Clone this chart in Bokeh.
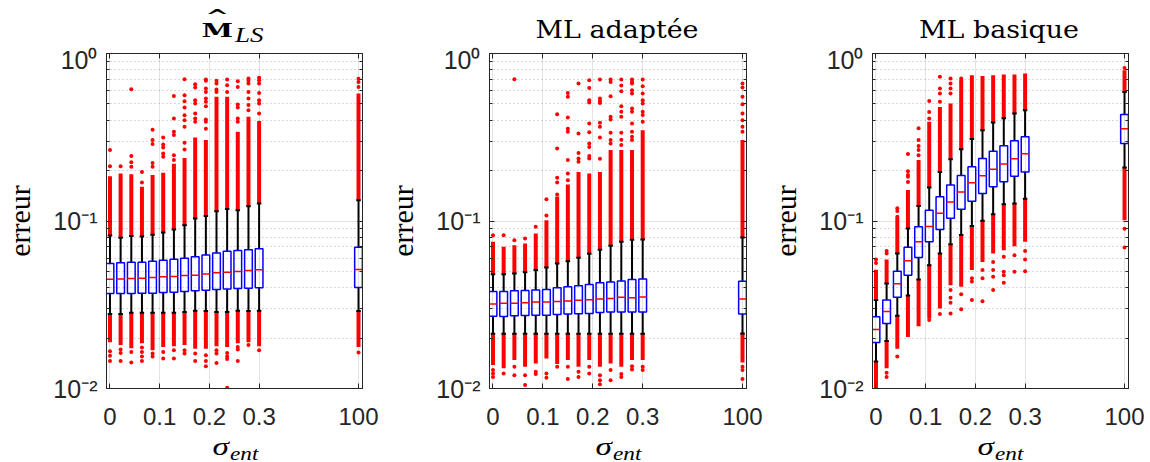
from bokeh.plotting import figure
from bokeh.layouts import row, column
from bokeh.models import (FixedTicker, LinearAxis, LogAxis, Range1d, Div,
                          CustomJSTickFormatter)
from bokeh.embed import file_html
from bokeh.resources import INLINE

# ---------------- data ----------------
x_positions = [0, 0.0214, 0.0429, 0.0643, 0.0857, 0.1071, 0.1286, 0.15,
               0.1714, 0.1929, 0.2143, 0.2357, 0.2571, 0.2786, 0.3, 0.5]
x_tick_values = [0, 0.1, 0.2, 0.3, 0.5]
x_tick_labels = ["0", "0.1", "0.2", "0.3", "100"]
y_tick_values = [0.01, 0.1, 1]
y_tick_labels = ["10\u207b\u00b2", "10\u207b\u00b9", "10\u2070"]
y_minor_ticks = [0.02, 0.03, 0.04, 0.05, 0.06, 0.07, 0.08, 0.09,
                 0.2, 0.3, 0.4, 0.5, 0.6, 0.7, 0.8, 0.9]

# panel 1 : M_LS
p1_q1 = [0.0369, 0.0369, 0.0369, 0.0371, 0.0371, 0.0374, 0.0376, 0.0380,
         0.0383, 0.0386, 0.0390, 0.0392, 0.0395, 0.0397, 0.0399, 0.0401]
p1_med = [0.0449, 0.0451, 0.0453, 0.0455, 0.0460, 0.0464, 0.0466, 0.0473,
          0.0475, 0.0482, 0.0491, 0.0495, 0.0500, 0.0506, 0.0511, 0.0513]
p1_q3 = [0.0557, 0.0563, 0.0568, 0.0568, 0.0576, 0.0584, 0.0592, 0.0600,
         0.0611, 0.0627, 0.0645, 0.0660, 0.0667, 0.0673, 0.0682, 0.0698]
p1_wlo = [0.0278, 0.0278, 0.0283, 0.0283, 0.0283, 0.0283, 0.0283, 0.0286,
          0.0291, 0.0290, 0.0286, 0.0286, 0.0291, 0.0290, 0.0291, 0.0290]
p1_whi = [0.0819, 0.0793, 0.0815, 0.0808, 0.0827, 0.0854, 0.0890, 0.0944,
          0.1035, 0.107, 0.1145, 0.118, 0.116, 0.1226, 0.1272, 0.133]
p1_dense_top = [0.185, 0.192, 0.190, 0.160, 0.188, 0.194, 0.220, 0.238,
                0.315, 0.304, 0.551, 0.551, 0.341, 0.419, 0.396, 0.577]
p1_dense_bot = [0.0189, 0.0182, 0.0174, 0.0186, 0.0169, 0.0177, 0.0179, 0.0182,
                0.0173, 0.0173, 0.0179, 0.0177, 0.0186, 0.0189, 0.0179, 0.0177]
p1_out_hi = [
    [0.265, 0.212],
    [0.212],
    [0.612, 0.244, 0.224, 0.211],
    [0.196, 0.170],
    [0.351, 0.304, 0.288, 0.222, 0.211],
    [0.315, 0.286, 0.275, 0.253, 0.242],
    [0.558, 0.409, 0.341, 0.326, 0.247, 0.231],
    [0.703, 0.564, 0.519, 0.476, 0.428, 0.400, 0.365, 0.293, 0.267],
    [0.656, 0.627, 0.526, 0.503, 0.438, 0.409, 0.391],
    [0.699, 0.687, 0.618, 0.590, 0.538, 0.515, 0.485, 0.404, 0.391, 0.356],
    [0.687, 0.662, 0.610, 0.590],
    [0.699, 0.646, 0.590],
    [0.684, 0.632, 0.496, 0.476, 0.409, 0.391],
    [0.709, 0.687, 0.662, 0.590, 0.538, 0.492, 0.459],
    [0.716, 0.693, 0.662, 0.582, 0.526, 0.503, 0.438],
    [0.706, 0.677, 0.632],
]
p1_out_lo = [
    [0.0167, 0.0157, 0.0146],
    [0.0171, 0.0163, 0.0146],
    [0.0165, 0.0143],
    [0.0176, 0.0165, 0.0155, 0.0146],
    [0.0162, 0.0155],
    [0.0165, 0.0151],
    [0.0169, 0.0151],
    [0.0169, 0.0162],
    [0.0162, 0.0146],
    [0.0158, 0.0146, 0.0136],
    [0.0169, 0.0162, 0.0142],
    [0.0163, 0.0155, 0.0150, 0.0101],
    [0.0177, 0.0171, 0.0146],
    [0.0182],
    [0.0169],
    [0.0164],
]

# panel 2 : ML adaptee
p2_q1 = [0.0270, 0.0269, 0.0272, 0.0273, 0.0274, 0.0274, 0.0277, 0.0278,
         0.0279, 0.0280, 0.0284, 0.0286, 0.0286, 0.0286, 0.0286, 0.0278]
p2_med = [0.0320, 0.0323, 0.0323, 0.0325, 0.0328, 0.0328, 0.0331, 0.0333,
          0.0336, 0.0339, 0.0342, 0.0345, 0.0350, 0.0348, 0.0352, 0.0342]
p2_q3 = [0.0380, 0.0380, 0.0383, 0.0385, 0.0387, 0.0390, 0.0399, 0.0405,
         0.0411, 0.0418, 0.0428, 0.0433, 0.0439, 0.0447, 0.0451, 0.0437]
p2_wlo = [0.0212, 0.0212, 0.0212, 0.0212, 0.0212, 0.0212, 0.0212, 0.0212,
          0.0212, 0.0212, 0.0212, 0.0212, 0.0212, 0.0212, 0.0212, 0.0213]
p2_whi = [0.0481, 0.0481, 0.0486, 0.0495, 0.0509, 0.0527, 0.0557, 0.0576,
          0.0603, 0.0637, 0.0673, 0.0712, 0.0751, 0.0772, 0.0776, 0.0796]
p2_dense_top = [0.0751, 0.0701, 0.0717, 0.0734, 0.0842, 0.1012, 0.140, 0.165,
                0.196, 0.192, 0.196, 0.265, 0.265, 0.265, 0.348, 0.304]
p2_dense_bot = [0.0138, 0.0132, 0.0148, 0.0135, 0.0141, 0.0151, 0.0140, 0.0148,
                0.0135, 0.0148, 0.0135, 0.0141, 0.0135, 0.0148, 0.0148, 0.0143]
p2_out_hi = [
    [0.0821],
    [0.0821],
    [0.0768, 0.703],
    [0.0786],
    [0.0923],
    [0.108, 0.135],
    [0.144, 0.170, 0.181, 0.271, 0.434],
    [0.175, 0.192, 0.231, 0.341, 0.355, 0.415, 0.551, 0.582],
    [0.226, 0.236, 0.255, 0.333, 0.662],
    [0.236, 0.244, 0.277, 0.290, 0.339, 0.382, 0.510, 0.526, 0.623, 0.693],
    [0.235, 0.315, 0.365, 0.386, 0.507, 0.521, 0.539, 0.700],
    [0.290, 0.304, 0.336, 0.404, 0.419, 0.556, 0.677, 0.699],
    [0.284, 0.306, 0.336, 0.419, 0.449, 0.484, 0.596, 0.644, 0.699],
    [0.304, 0.318, 0.341, 0.382, 0.449, 0.470, 0.577, 0.604, 0.662, 0.677, 0.699],
    [0.391, 0.429, 0.449, 0.503, 0.526, 0.577, 0.638, 0.699],
    [0.341, 0.365, 0.400, 0.438, 0.498, 0.551, 0.627, 0.662],
]
p2_out_lo = [
    [0.0129, 0.0123, 0.0117],
    [0.0123],
    [0.0135, 0.0120],
    [0.0120, 0.0105],
    [0.0126, 0.0122],
    [0.0123, 0.0116],
    [0.0135],
    [0.0135, 0.0114],
    [0.0126, 0.0117],
    [0.0135, 0.0123],
    [0.0120, 0.0112, 0.0106],
    [0.0129, 0.0112],
    [0.0122, 0.0117],
    [0.0136, 0.0130],
    [0.0135, 0.0129],
    [0.0135, 0.0129, 0.0114],
]

# panel 3 : ML basique
p3_q1 = [0.0188, 0.0244, 0.0350, 0.0475, 0.0605, 0.0751, 0.0890, 0.1037,
         0.1177, 0.1314, 0.146, 0.160, 0.1714, 0.185, 0.196, 0.290]
p3_med = [0.0225, 0.0288, 0.0422, 0.0579, 0.0751, 0.0927, 0.1113, 0.130,
          0.149, 0.169, 0.186, 0.204, 0.219, 0.235, 0.252, 0.355]
p3_q3 = [0.0268, 0.0337, 0.0502, 0.0698, 0.0923, 0.1161, 0.1394, 0.164,
         0.187, 0.211, 0.236, 0.261, 0.281, 0.301, 0.318, 0.432]
p3_wlo = [0.0145, 0.0192, 0.0272, 0.0359, 0.0447, 0.0545, 0.0640, 0.0727,
          0.0824, 0.0932, 0.1003, 0.1098, 0.1260, 0.1272, 0.136, 0.209]
p3_whi = [0.0337, 0.0424, 0.0640, 0.0903, 0.123, 0.1585, 0.196, 0.234,
          0.268, 0.309, 0.348, 0.387, 0.411, 0.438, 0.459, 0.590]
p3_dense_top = [0.0512, 0.059, 0.1047, 0.153, 0.231, 0.391, 0.480, 0.503,
                0.700, 0.742, 0.735, 0.742, 0.750, 0.750, 0.760, 0.795]
p3_dense_bot = [0.0100, 0.0132, 0.0173, 0.0203, 0.0235, 0.0262, 0.0300, 0.0414,
                0.0405, 0.0509, 0.0570, 0.0640, 0.0670, 0.0707, 0.0751, 0.101]
p3_out_hi = [
    [0.0562, 0.0589],
    [0.064, 0.0662],
    [0.106, 0.1148, 0.119],
    [0.171, 0.1835, 0.188, 0.198, 0.251],
    [0.247, 0.265, 0.280, 0.304, 0.358],
    [0.409, 0.448, 0.521],
    [0.515, 0.577, 0.618, 0.726],
    [0.577, 0.618, 0.662, 0.709],
    [0.709],
    [], [], [], [], [], [],
    [0.82],
]
p3_out_lo = [
    [],
    [0.0124, 0.0117],
    [0.0155],
    [],
    [],
    [0.0256],
    [0.0278],
    [0.0387, 0.0348, 0.0325, 0.0280],
    [0.0365, 0.0297],
    [0.0455, 0.0435, 0.0337],
    [0.0509, 0.0455, 0.0332],
    [0.0570, 0.0509, 0.0464, 0.0387],
    [0.0611, 0.0497, 0.0475, 0.0428],
    [0.0625, 0.0497],
    [0.0662, 0.0589, 0.0502],
    [0.0900, 0.0695],
]

# ---------------- style ----------------
AX = "#262626"
X0, X1 = -0.007, 0.508
BOX_W = 0.0155
CAP_W = 0.009
DENSE_W = 0.008
TICK_FONT = "Liberation Sans"
SERIF = "Liberation Serif"
TITLE_SERIF = "DejaVu Serif"
TOP_H, FIG_H, BOT_H = 45, 395, 22


def empty_fmt():
    return CustomJSTickFormatter(code="return ''")


def style_axis(ax):
    ax.axis_line_color = AX
    ax.axis_line_width = 1
    ax.major_tick_line_color = AX
    ax.minor_tick_line_color = AX
    ax.major_tick_in = 5
    ax.major_tick_out = 0
    ax.minor_tick_in = 3
    ax.minor_tick_out = 0
    ax.major_label_text_color = AX
    ax.major_label_text_font = TICK_FONT


def span(css, text):
    return (f'<span style="position:absolute;white-space:nowrap;color:#000;'
            f'font-weight:normal;{css}">{text}</span>')


def title_div(parts, width, cx):
    if len(parts) == 2:
        # wide hat and bold M in one text block (hat line above the M line)
        inner = (
            span(f"right:{width - cx + 0.5}px;top:10px;font-family:'{TITLE_SERIF}';"
                 "font-weight:bold;font-size:19px;line-height:13.5px;"
                 "white-space:pre;text-align:center;"
                 "transform-origin:right center;transform:scaleX(1.5);",
                 "^\nM") +
            span(f"left:{cx + 1.5}px;top:25px;font-family:'{SERIF}';"
                 "font-style:italic;font-size:20px;line-height:20px;"
                 "transform-origin:left center;transform:scaleX(1.35);", parts[1]))
    else:
        inner = span(f"left:{cx}px;top:18px;transform:translateX(-50%) scaleX(1.12);"
                     f"font-family:'{TITLE_SERIF}';font-size:24px;line-height:24px;",
                     parts[0])
    html = f'<div style="position:relative;width:{width}px;height:{TOP_H}px;">{inner}</div>'
    return Div(text=html, width=width, height=TOP_H, margin=0)


def xlabel_div(width, cx):
    inner = (span(f"right:{width - cx + 5}px;top:-6px;font-family:'{SERIF}';"
                  "font-style:italic;font-size:26px;line-height:26px;"
                  "transform-origin:right center;transform:scaleX(1.28);", "\u03c3") +
             span(f"left:{cx - 4}px;top:4px;font-family:'{SERIF}';"
                  "font-style:italic;font-size:19px;line-height:19px;"
                  "transform-origin:left center;transform:scaleX(1.22);", "ent"))
    html = f'<div style="position:relative;width:{width}px;height:{BOT_H}px;">{inner}</div>'
    return Div(text=html, width=width, height=BOT_H, margin=0)


def make_panel(title_parts, q1, med, q3, wlo, whi, dtop, dbot, out_hi, out_lo,
               left, frame_w, right):
    W = left + frame_w + right
    p = figure(width=W, height=FIG_H, y_axis_type="log",
               x_range=Range1d(X0, X1), y_range=Range1d(0.01, 1),
               output_backend="svg", toolbar_location=None,
               min_border_left=left, min_border_right=right,
               min_border_top=53 - TOP_H, min_border_bottom=FIG_H + TOP_H - 388,
               background_fill_color="white", border_fill_color="white",
               outline_line_color=AX, outline_line_width=1)

    xa = p.xaxis[0]
    xa.ticker = FixedTicker(ticks=x_tick_values, minor_ticks=[])
    xa.major_label_overrides = {v: t for v, t in zip(x_tick_values, x_tick_labels)}
    style_axis(xa)
    xa.major_label_text_font_size = "24px"
    xa.major_label_standoff = 19
    xa.minor_tick_line_color = None

    ya = p.yaxis[0]
    ya.ticker = FixedTicker(ticks=y_tick_values, minor_ticks=y_minor_ticks)
    ya.major_label_overrides = {v: t for v, t in zip(y_tick_values, y_tick_labels)}
    style_axis(ya)
    ya.major_label_text_font_size = "25px"
    ya.major_label_standoff = 9
    ya.axis_label = "erreur"
    ya.axis_label_text_font = SERIF
    ya.axis_label_text_font_size = "30px"
    ya.axis_label_text_font_style = "normal"
    ya.axis_label_text_color = "#000000"
    ya.axis_label_standoff = 14

    ra = LogAxis(ticker=FixedTicker(ticks=y_tick_values, minor_ticks=y_minor_ticks),
                 formatter=empty_fmt())
    style_axis(ra)
    ra.major_label_standoff = 0
    p.add_layout(ra, "right")
    ta = LinearAxis(ticker=FixedTicker(ticks=x_tick_values, minor_ticks=[]),
                    formatter=empty_fmt())
    style_axis(ta)
    ta.minor_tick_line_color = None
    ta.major_label_standoff = 0
    p.add_layout(ta, "above")

    p.xgrid.ticker = FixedTicker(ticks=x_tick_values, minor_ticks=[])
    p.xgrid.grid_line_color = AX
    p.xgrid.grid_line_alpha = 0.13
    p.ygrid.ticker = FixedTicker(ticks=y_tick_values, minor_ticks=y_minor_ticks)
    p.ygrid.grid_line_color = AX
    p.ygrid.grid_line_alpha = 0.13
    p.ygrid.minor_grid_line_color = AX
    p.ygrid.minor_grid_line_alpha = 0.35
    p.ygrid.minor_grid_line_dash = "1 3"

    xs = x_positions
    n = len(xs)
    p.quad(left=[x - DENSE_W / 2 for x in xs], right=[x + DENSE_W / 2 for x in xs],
           bottom=whi, top=dtop, fill_color="#ff0000", line_color=None)
    p.quad(left=[x - DENSE_W / 2 for x in xs], right=[x + DENSE_W / 2 for x in xs],
           bottom=dbot, top=wlo, fill_color="#ff0000", line_color=None)
    ox, oy = [], []
    for i in range(n):
        for v in out_hi[i] + out_lo[i]:
            ox.append(xs[i])
            oy.append(v)
    p.scatter(ox, oy, size=4, marker="circle", fill_color="#ff0000",
              line_color=None)
    p.segment(x0=xs, y0=q3, x1=xs, y1=whi, line_color="black", line_width=2)
    p.segment(x0=xs, y0=q1, x1=xs, y1=wlo, line_color="black", line_width=2)
    p.segment(x0=[x - CAP_W / 2 for x in xs], y0=whi,
              x1=[x + CAP_W / 2 for x in xs], y1=whi, line_color="black", line_width=2)
    p.segment(x0=[x - CAP_W / 2 for x in xs], y0=wlo,
              x1=[x + CAP_W / 2 for x in xs], y1=wlo, line_color="black", line_width=2)
    p.quad(left=[x - BOX_W / 2 for x in xs], right=[x + BOX_W / 2 for x in xs],
           bottom=q1, top=q3, fill_color="white", fill_alpha=0.0,
           line_color="#0000ff", line_width=1.5)
    p.segment(x0=[x - BOX_W / 2 for x in xs], y0=med,
              x1=[x + BOX_W / 2 for x in xs], y1=med, line_color="#ff0000",
              line_width=1.5)

    cx = left + frame_w / 2
    return column(title_div(title_parts, W, cx), p, xlabel_div(W, cx), spacing=0)


c1 = make_panel(["M", "LS"], p1_q1, p1_med, p1_q3, p1_wlo, p1_whi,
                p1_dense_top, p1_dense_bot, p1_out_hi, p1_out_lo, 105, 257, 21)
c2 = make_panel(["ML adaptée"], p2_q1, p2_med, p2_q3, p2_wlo, p2_whi,
                p2_dense_top, p2_dense_bot, p2_out_hi, p2_out_lo, 104, 259, 20)
c3 = make_panel(["ML basique"], p3_q1, p3_med, p3_q3, p3_wlo, p3_whi,
                p3_dense_top, p3_dense_bot, p3_out_hi, p3_out_lo, 104, 258, 22)

layout = row(c1, c2, c3, spacing=0)
open("out.html", "w").write(file_html(layout, INLINE))
